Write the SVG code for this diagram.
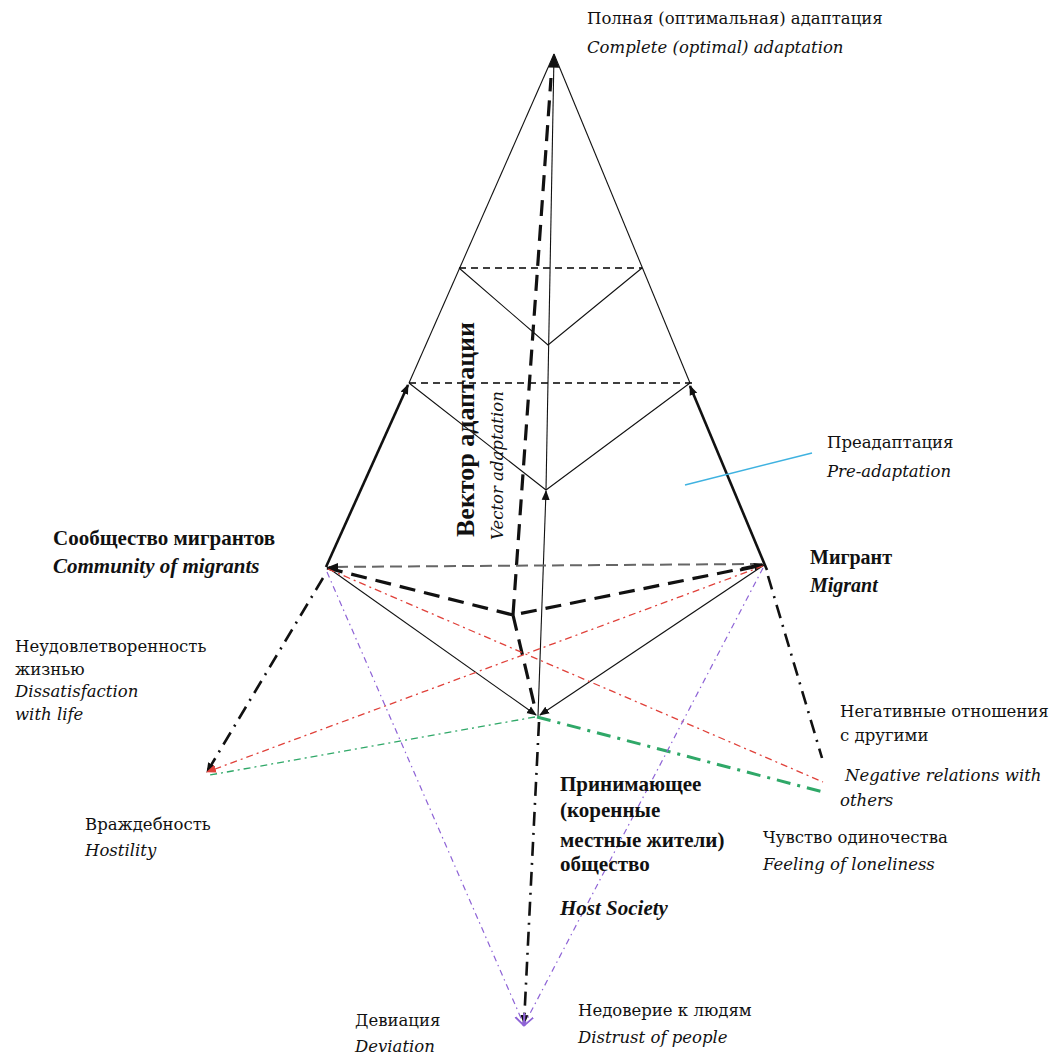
<svg xmlns="http://www.w3.org/2000/svg" width="1059" height="1056" viewBox="0 0 1059 1056">
<style>
text{font-family:"DejaVu Serif","Liberation Serif",serif;font-size:16.5px;fill:#111}
.it{font-style:italic}
.b{font-family:"Liberation Serif","Times New Roman",serif;font-weight:bold;font-size:21px}
.thin{stroke:#111;stroke-width:1.1;fill:none}
.dash{stroke:#000;stroke-width:1.3;fill:none;stroke-dasharray:7 5}
.thick{stroke:#111;stroke-width:2.6;fill:none}
.tdash{stroke:#111;stroke-width:3.2;fill:none;stroke-dasharray:16 9}
.gdash{stroke:#666;stroke-width:2;fill:none;stroke-dasharray:12 6}
.bdd{stroke:#111;stroke-width:2.6;fill:none;stroke-dasharray:14 7 2 7}
.rdd{stroke:#e0413a;stroke-width:1.3;fill:none;stroke-dasharray:7 4 2 4}
.gdd{stroke:#2fa868;stroke-width:1.3;fill:none;stroke-dasharray:7 4 2 4}
.gdd2{stroke:#2fa868;stroke-width:3;fill:none;stroke-dasharray:14 7 3 7}
.pdd{stroke:#8e63d6;stroke-width:1.2;fill:none;stroke-dasharray:6 4 1.5 4}
</style>
<defs>
<marker id="ah" viewBox="0 0 10 10" refX="9" refY="5" markerWidth="10" markerHeight="10" markerUnits="userSpaceOnUse" orient="auto"><path d="M0,1 L10,5 L0,9 z" fill="#111"/></marker>
<marker id="ahL" viewBox="0 0 10 10" refX="9" refY="5" markerWidth="16" markerHeight="14" markerUnits="userSpaceOnUse" orient="auto"><path d="M0,1 L10,5 L0,9 z" fill="#111"/></marker>
<marker id="ahR" viewBox="0 0 10 10" refX="9" refY="5" markerWidth="10" markerHeight="10" markerUnits="userSpaceOnUse" orient="auto"><path d="M0,1 L10,5 L0,9 z" fill="#e0413a"/></marker>
<marker id="ahP" viewBox="0 0 10 10" refX="9" refY="5" markerWidth="12" markerHeight="12" markerUnits="userSpaceOnUse" orient="auto"><path d="M0,1 L10,5 L0,9" fill="none" stroke="#8e63d6" stroke-width="1.5"/></marker>
</defs>

<g id="connectors">
<line class="thin" x1="554" y1="54" x2="409" y2="383"/>
<line class="thin" x1="554" y1="54" x2="690" y2="383"/>
<line class="dash" x1="459" y1="268" x2="642" y2="268"/>
<line class="dash" x1="409" y1="383" x2="692" y2="383"/>
<polyline class="thin" points="459,268 548,345 642,268"/>
<polyline class="thin" points="409,383 546,490 690,383"/>
<line class="thick" x1="326" y1="567" x2="408" y2="385" marker-end="url(#ah)"/>
<line class="thick" x1="767" y1="570" x2="690" y2="386" marker-end="url(#ah)"/>
<line class="thin" x1="538" y1="716" x2="546" y2="491" marker-end="url(#ah)"/>
<line class="thin" x1="546" y1="490" x2="554" y2="55" marker-end="url(#ahL)"/>
<line class="tdash" x1="513" y1="615" x2="551" y2="78"/>
<line class="gdash" x1="762" y1="564" x2="329" y2="567" marker-end="url(#ah)"/>
<polyline class="tdash" points="327,568 513,615 760,565"/>
<line x1="740" y1="570" x2="763" y2="565" stroke="#111" stroke-width="3.2" marker-end="url(#ah)"/>
<line class="tdash" x1="513" y1="615" x2="535" y2="708"/>
<line class="thin" x1="327" y1="567" x2="536" y2="715" marker-end="url(#ah)"/>
<line class="thin" x1="764" y1="565" x2="540" y2="715" marker-end="url(#ah)"/>
<line class="bdd" x1="323" y1="578" x2="207" y2="772" marker-end="url(#ah)"/>
<line class="bdd" x1="768" y1="576" x2="822" y2="758"/>
<line class="bdd" x1="539" y1="722" x2="524" y2="1024" marker-end="url(#ah)"/>
<line class="rdd" x1="763" y1="566" x2="207" y2="772" marker-end="url(#ahR)"/>
<line class="rdd" x1="328" y1="569" x2="823" y2="782"/>
<line class="gdd" x1="535" y1="717" x2="210" y2="775"/>
<line class="gdd2" x1="537" y1="717" x2="823" y2="792"/>
<line class="pdd" x1="327" y1="572" x2="524" y2="1025" marker-end="url(#ahP)"/>
<line class="pdd" x1="763" y1="568" x2="524" y2="1025" marker-end="url(#ahP)"/>
<line x1="685" y1="485" x2="812" y2="453" stroke="#3fb2e0" stroke-width="1.5"/>
</g>

<g id="node-complete">
<text x="587" y="24">Полная (оптимальная) адаптация</text>
<text class="it" x="587" y="53">Complete (optimal) adaptation</text>
</g>
<g id="node-vector">
<text class="b" transform="translate(474,537) rotate(-90)" style="font-size:26px">Вектор адаптации</text>
<text class="it" transform="translate(503,540) rotate(-90)">Vector adaptation</text>
</g>
<g id="node-preadaptation">
<text x="827" y="448">Преадаптация</text>
<text class="it" x="827" y="477">Pre-adaptation</text>
</g>
<g id="node-community">
<text class="b" x="53" y="545">Сообщество мигрантов</text>
<text class="b it" x="53" y="573">Community of migrants</text>
</g>
<g id="node-migrant">
<text class="b" x="810" y="564" style="font-size:20px">Мигрант</text>
<text class="b it" x="810" y="592" style="font-size:20px">Migrant</text>
</g>
<g id="node-dissatisfaction">
<text x="15" y="652">Неудовлетворенность</text>
<text x="15" y="675">жизнью</text>
<text class="it" x="15" y="697">Dissatisfaction</text>
<text class="it" x="15" y="720">with life</text>
</g>
<g id="node-hostility">
<text x="85" y="830">Враждебность</text>
<text class="it" x="85" y="856">Hostility</text>
</g>
<g id="node-negative">
<text x="840" y="717">Негативные отношения</text>
<text x="840" y="741">с другими</text>
<text class="it" x="845" y="781">Negative relations with</text>
<text class="it" x="840" y="806">others</text>
</g>
<g id="node-loneliness">
<text x="763" y="843">Чувство одиночества</text>
<text class="it" x="763" y="870">Feeling of loneliness</text>
</g>
<g id="node-host">
<text class="b" x="560" y="791">Принимающее</text>
<text class="b" x="560" y="817">(коренные</text>
<text class="b" x="560" y="847">местные жители)</text>
<text class="b" x="560" y="871">общество</text>
<text class="b it" x="560" y="915">Host Society</text>
</g>
<g id="node-deviation">
<text x="355" y="1026">Девиация</text>
<text class="it" x="355" y="1052">Deviation</text>
</g>
<g id="node-distrust">
<text x="578" y="1016">Недоверие к людям</text>
<text class="it" x="578" y="1043">Distrust of people</text>
</g>
</svg>
